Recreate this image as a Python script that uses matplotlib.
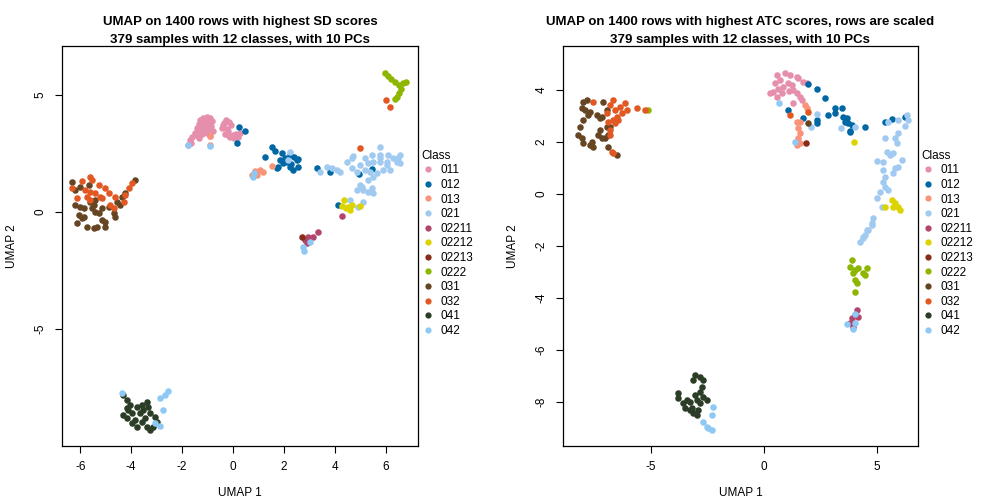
import matplotlib
matplotlib.use("Agg")
import matplotlib.pyplot as plt
from matplotlib.lines import Line2D

plt.rcParams['font.family'] = ['Liberation Sans', 'DejaVu Sans']
plt.rcParams['axes.unicode_minus'] = False

classes = ['011', '012', '013', '021', '02211', '02212', '02213', '0222',
           '031', '032', '041', '042']
colors = ['#E68FAC', '#0067A5', '#F99379', '#A1CAF1', '#B3446C', '#DCD300',
          '#882D17', '#8DB600', '#654522', '#E25822', '#2B3D26', '#8EC8F5']

# ---- left panel: highest SD scores ----
sd_011 = [(-1.69, 3.08), (-1.61, 3.21), (-1.49, 3.38), (-1.41, 3.59), (-1.34, 3.76),
          (-1.30, 3.93), (-1.18, 4.02), (-1.02, 4.06), (-0.90, 4.02), (-0.83, 3.89),
          (-0.86, 3.68), (-0.98, 3.55), (-1.10, 3.46), (-1.22, 3.33), (-1.34, 3.16),
          (-1.45, 3.29), (-1.18, 3.59), (-1.06, 3.85), (-0.94, 3.76), (-1.65, 2.95),
          (-1.76, 2.86), (-0.90, 3.25), (-0.79, 3.46), (-1.38, 3.46), (-1.14, 3.72),
          (-1.25, 3.90), (-1.00, 3.35),
          (-0.43, 3.59), (-0.35, 3.80), (-0.28, 3.93), (-0.16, 3.85), (-0.08, 3.72),
          (-0.20, 3.46), (-0.31, 3.33), (-0.16, 3.25), (0.00, 3.29), (0.12, 3.33),
          (0.20, 3.21), (0.04, 3.16), (-0.12, 3.20), (-0.24, 3.55), (0.28, 3.35),
          (-0.40, 3.70)]
sd_012 = [(0.24, 3.63), (0.47, 3.46), (0.16, 2.95), (1.53, 2.78), (1.65, 2.61),
          (1.93, 2.52), (1.26, 2.35), (2.24, 2.44), (2.40, 2.35), (2.55, 2.26),
          (2.04, 2.31), (2.12, 2.14), (1.96, 2.09), (2.24, 1.92), (2.36, 1.79),
          (2.55, 1.92), (1.77, 1.92), (1.73, 1.88), (2.51, 2.22), (3.30, 1.88),
          (3.81, 1.71), (4.95, 1.62), (5.46, 1.84), (4.13, 0.30), (1.85, 2.20),
          (2.30, 2.05)]
sd_013 = [(-0.90, 3.25), (-0.90, 2.86), (0.86, 1.75), (1.06, 1.79), (0.94, 1.58),
          (1.18, 1.71), (0.75, 1.58), (1.53, 1.97)]
sd_021 = [(3.42, 1.71), (3.69, 1.92), (3.89, 1.88), (4.09, 1.79), (4.20, 1.71),
          (4.68, 1.88), (4.87, 1.71), (4.48, 2.14), (4.68, 2.31), (4.72, 2.39),
          (4.99, 2.01), (5.19, 2.31), (5.46, 2.44), (5.78, 2.78), (5.78, 2.44),
          (6.09, 2.44), (6.29, 2.31), (6.56, 2.44), (6.44, 2.14), (6.05, 2.14),
          (5.78, 2.14), (5.50, 2.14), (5.30, 2.09), (5.19, 1.79), (5.38, 1.71),
          (5.66, 1.67), (5.89, 1.79), (6.17, 1.79), (5.50, 1.50), (5.30, 1.37),
          (4.99, 1.15), (4.87, 0.94), (5.11, 0.94), (5.46, 1.03), (5.50, 0.81),
          (5.30, 0.85), (5.07, 1.07), (5.78, 2.31), (6.48, 2.31), (6.56, 2.09),
          (6.05, 2.01), (4.60, 0.51), (5.11, 0.43), (4.91, 0.21), (2.24, 2.56),
          (2.16, 2.22)]
sd_02211 = [(4.28, -0.17), (3.34, -0.85), (3.14, -1.07), (2.95, -1.07), (2.83, -1.20),
            (2.91, -1.32)]
sd_02212 = [(4.36, 0.51), (4.28, 0.26), (4.44, 0.17), (4.60, 0.09), (4.68, 0.30),
            (4.99, 0.26), (4.52, 0.21)]
sd_02213 = [(2.71, -1.07)]
sd_0222 = [(5.97, 5.94), (6.09, 5.81), (6.21, 5.68), (6.37, 5.56), (6.52, 5.43),
           (6.68, 5.51), (6.80, 5.56), (6.60, 5.26), (6.52, 5.09), (6.44, 4.91),
           (6.37, 4.83)]
sd_031 = [(-6.33, 1.28), (-6.21, 0.94), (-6.01, 1.07), (-5.66, 1.15), (-6.21, 0.30),
          (-6.01, 0.21), (-5.85, 0.17), (-6.05, -0.13), (-5.85, -0.21), (-6.13, -0.47),
          (-5.93, -0.26), (-5.74, -0.64), (-5.46, -0.68), (-5.34, -0.64), (-5.62, 0.43),
          (-5.46, 0.30), (-5.54, 0.17), (-5.42, 0.00), (-5.27, -0.04), (-5.15, -0.34),
          (-5.03, -0.64), (-5.15, 0.17), (-4.87, 0.21), (-4.68, -0.04), (-4.44, 0.30),
          (-4.56, 0.43), (-4.36, 0.64), (-4.24, 0.81), (-3.85, 1.37), (-4.64, -0.21),
          (-5.42, 0.51), (-5.03, -0.43)]
sd_032 = [(-6.33, 1.03), (-5.93, 1.32), (-5.62, 1.50), (-5.54, 1.37), (-5.82, 0.94),
          (-5.62, 0.85), (-5.74, 0.64), (-6.13, 0.60), (-5.27, 1.15), (-5.03, 1.03),
          (-4.87, 0.81), (-5.23, 0.64), (-5.15, 0.60), (-4.64, 0.64), (-4.24, 0.73),
          (-4.09, 1.03), (-3.97, 1.24), (-4.83, 0.30), (-4.68, 0.17), (-4.28, 0.43),
          (-5.62, 0.51), (-5.42, 0.81), (6.01, 4.79), (6.17, 4.49), (4.99, 2.74)]
sd_041 = [(-4.32, -7.82), (-4.17, -8.03), (-4.05, -8.25), (-4.13, -8.46), (-4.32, -8.67),
          (-4.17, -8.80), (-3.97, -9.02), (-3.77, -9.19), (-3.58, -8.97), (-3.38, -9.19),
          (-3.26, -9.32), (-3.46, -8.80), (-3.26, -8.59), (-3.06, -8.76), (-3.65, -8.59),
          (-3.77, -8.33), (-3.58, -8.25), (-3.38, -8.12), (-3.34, -8.33), (-3.54, -8.46),
          (-3.97, -8.59), (-3.85, -8.89), (-2.99, -8.97), (-3.14, -9.19), (-4.17, -8.38)]
sd_042 = [(-1.77, 2.86), (-0.90, 2.82), (0.79, 1.50), (0.83, 1.67), (2.75, -1.50),
          (2.79, -1.67), (3.03, -1.28), (-4.36, -7.74), (-2.87, -7.95), (-2.67, -7.82),
          (-2.55, -7.65), (-2.75, -8.46), (-3.06, -9.02), (-2.87, -9.15)]

# ---- right panel: highest ATC scores, rows scaled ----
atc_011 = [(0.58, 4.58), (0.93, 4.65), (1.15, 4.58), (1.46, 4.50), (1.73, 4.31),
           (1.90, 4.27), (0.49, 4.27), (0.40, 3.92), (0.58, 3.73), (0.80, 3.88),
           (0.84, 4.12), (1.24, 4.19), (1.46, 3.88), (1.59, 3.73), (1.68, 3.62),
           (1.28, 4.00), (1.06, 4.27), (0.71, 4.38), (0.27, 3.88), (1.50, 4.46),
           (1.28, 3.50), (0.62, 4.05), (1.10, 3.95)]
atc_012 = [(1.95, 4.23), (2.35, 4.04), (2.70, 3.69), (1.06, 3.23), (1.73, 2.92),
           (2.35, 2.85), (2.35, 2.73), (2.83, 3.04), (3.14, 3.31), (3.14, 3.12),
           (3.45, 3.31), (3.50, 2.96), (3.58, 2.77), (3.72, 2.73), (3.89, 2.65),
           (3.81, 2.42), (4.47, 2.58), (5.35, 2.77), (5.66, 2.88), (6.24, 2.96),
           (3.81, 2.38), (3.67, 2.92)]
atc_013 = [(1.81, 3.42), (1.90, 3.31), (1.46, 2.77), (1.59, 2.77), (1.50, 2.54),
           (1.59, 2.35), (1.50, 2.15), (1.46, 1.88), (1.59, 1.96)]
atc_021 = [(2.35, 3.08), (2.08, 2.58), (3.41, 2.54), (4.03, 2.58),
           (5.49, 2.77), (5.93, 2.85), (6.33, 3.04), (6.37, 2.85), (6.24, 2.62),
           (5.93, 2.35), (5.80, 2.15), (5.88, 1.96), (5.35, 2.15), (5.44, 1.62),
           (5.58, 1.50), (5.71, 1.58), (6.11, 1.31), (5.93, 1.04), (5.71, 0.81),
           (5.80, 1.00), (5.27, 1.23), (5.00, 1.27), (5.27, 0.92), (5.35, 0.65),
           (5.27, 0.46), (5.35, 0.27), (5.13, 0.08), (5.49, 0.15), (5.00, -0.15),
           (5.22, -0.50), (4.82, -0.92), (4.78, -1.19), (4.60, -1.38), (4.47, -1.58),
           (4.38, -1.69), (4.78, -1.12), (4.56, -1.38), (4.38, -1.65), (4.25, -1.85)]
atc_02211 = [(4.12, -4.46), (4.03, -4.65), (3.89, -4.77), (3.81, -4.96), (3.94, -5.12),
             (4.16, -4.73)]
atc_02212 = [(5.66, -0.23), (5.80, -0.35), (5.93, -0.50), (6.02, -0.62), (5.71, -0.50),
             (5.35, -0.50), (3.98, 2.00)]
atc_02213 = [(1.86, 1.96)]
atc_0222 = [(3.89, -2.54), (3.81, -2.81), (4.03, -2.92), (4.16, -2.85), (4.38, -3.04),
            (4.56, -2.85), (4.47, -3.12), (3.94, -3.04), (4.03, -3.31), (4.12, -3.42),
            (4.03, -3.77), (-5.13, 3.23)]
atc_031 = [(-8.01, 3.54), (-7.83, 3.62), (-8.05, 3.31), (-7.92, 3.23), (-7.70, 3.15),
           (-7.79, 3.04), (-8.01, 2.85), (-8.14, 2.58), (-8.23, 2.27), (-8.05, 2.15),
           (-8.01, 1.96), (-7.70, 1.88), (-7.57, 1.81), (-7.12, 3.54), (-7.39, 3.04),
           (-7.26, 2.92), (-7.17, 2.96), (-6.95, 3.23), (-7.26, 2.46), (-7.35, 2.27),
           (-7.17, 2.15), (-7.04, 2.15), (-6.90, 2.27), (-6.95, 2.58), (-6.81, 2.58),
           (-6.90, 1.81), (-6.50, 1.50), (-7.61, 2.00), (1.95, 2.73)]
atc_032 = [(-7.57, 3.54), (-6.68, 3.62), (-6.81, 3.42), (-6.59, 3.23), (-6.37, 3.35),
           (-6.15, 3.50), (-6.06, 3.23), (-6.28, 3.12), (-6.50, 2.96), (-6.68, 2.85),
           (-6.46, 2.85), (-6.90, 2.77), (-6.81, 2.46), (-6.81, 2.27), (-6.59, 2.73),
           (-5.62, 3.31), (-5.27, 3.23), (-6.73, 1.62), (-6.68, 1.58), (-6.95, 3.12),
           (1.95, 3.15), (1.15, 3.04)]
atc_041 = [(-3.05, -6.96), (-2.83, -7.04), (-3.14, -7.15), (-2.70, -7.15), (-2.74, -7.42),
           (-3.05, -7.73), (-2.83, -7.62), (-3.81, -7.65), (-3.81, -7.85), (-3.58, -8.04),
           (-3.50, -8.23), (-3.27, -8.31), (-3.14, -8.42), (-2.96, -8.50), (-2.92, -8.31),
           (-3.27, -8.00), (-2.96, -7.92), (-2.70, -7.81), (-2.52, -7.92), (-3.19, -8.23),
           (-3.41, -7.92), (-2.83, -8.04)]
atc_042 = [(0.66, 3.50), (1.37, 2.00), (3.67, -5.00), (4.03, -4.96), (3.94, -5.19),
           (4.03, -4.62), (-2.26, -8.19), (-2.30, -8.50), (-2.70, -8.77), (-2.48, -9.00),
           (-2.30, -9.08), (-2.52, -8.96)]

sd_points = [sd_011, sd_012, sd_013, sd_021, sd_02211, sd_02212, sd_02213, sd_0222,
             sd_031, sd_032, sd_041, sd_042]
atc_points = [atc_011, atc_012, atc_013, atc_021, atc_02211, atc_02212, atc_02213,
              atc_0222, atc_031, atc_032, atc_041, atc_042]

fig = plt.figure(figsize=(10.08, 5.04), dpi=100)
ax1 = fig.add_axes([0.0615, 0.115, 0.353, 0.794])
ax2 = fig.add_axes([0.5585, 0.115, 0.352, 0.794])


def draw(ax, points, title, xlim, ylim, xticks, yticks):
    for pts, col in zip(points, colors):
        xs = [p[0] for p in pts]
        ys = [p[1] for p in pts]
        ax.scatter(xs, ys, s=22, color=col, linewidths=0)
    ax.set_xlim(*xlim)
    ax.set_ylim(*ylim)
    ax.set_xticks(xticks)
    ax.set_yticks(yticks)
    ax.set_yticklabels([str(t) for t in yticks], rotation=90, va='center')
    ax.tick_params(direction='out', length=5, labelsize=8.5, width=0.8, pad=6)
    for sp in ax.spines.values():
        sp.set_linewidth(0.9)
    ax.set_title(title, fontsize=9.5, fontweight='bold', pad=2, linespacing=1.65)
    ax.set_xlabel('UMAP 1', fontsize=8.5, labelpad=10)
    ax.set_ylabel('UMAP 2', fontsize=8.5, labelpad=12)
    handles = [Line2D([], [], marker='o', linestyle='', markersize=4.5, color=c,
                      markeredgewidth=0) for c in colors]
    ax.legend(handles, classes, title='Class', loc='upper left',
              bbox_to_anchor=(0.998, 0.752), frameon=False, fontsize=8.5,
              title_fontsize=8.5, handletextpad=0.55, labelspacing=0.22,
              handlelength=1.0, alignment='left', borderaxespad=0.0)


draw(ax1, sd_points,
     'UMAP on 1400 rows with highest SD scores\n379 samples with 12 classes, with 10 PCs',
     (-6.72, 7.27), (-10.0, 7.09), [-6, -4, -2, 0, 2, 4, 6], [-5, 0, 5])
draw(ax2, atc_points,
     'UMAP on 1400 rows with highest ATC scores, rows are scaled\n'
     '379 samples with 12 classes, with 10 PCs',
     (-8.89, 6.81), (-9.69, 5.69), [-5, 0, 5], [-8, -6, -4, -2, 0, 2, 4])

fig.savefig('out.png', dpi=100)
